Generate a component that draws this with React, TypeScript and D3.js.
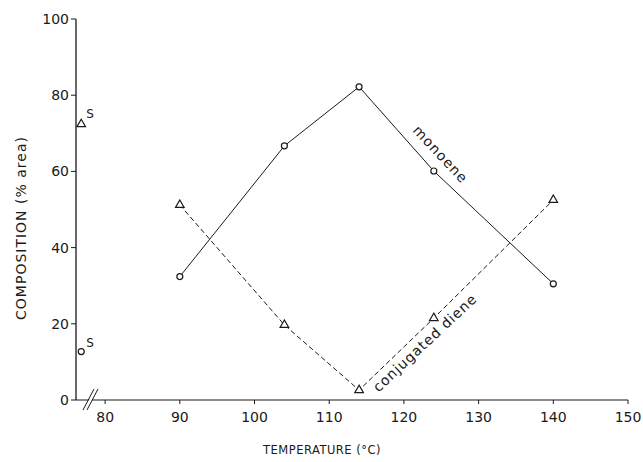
import React from 'react'
import * as d3 from 'd3'

const temps = [90, 104, 114, 124, 140]
const monoene = [32.4, 66.7, 82.2, 60.1, 30.5]
const diene = [51.2, 19.7, 2.6, 21.5, 52.5]
// starting material points, marked "S"
const startTemp = 76.8
const startMonoene = 12.7
const startDiene = 72.4
const xTicks = [80, 90, 100, 110, 120, 130, 140, 150]
const yTicks = [0, 20, 40, 60, 80, 100]

const ink = '#1a1a1a'
const font = 'DejaVu Sans, sans-serif'

const App = () => {
  const w = 643
  const h = 462
  const x = d3.scaleLinear().domain([76.1, 150]).range([76, 628])
  const y = d3.scaleLinear().domain([0, 100]).range([400, 19])

  const line = d3.line<number>()
    .x((d, i) => x(temps[i]))
    .y(d => y(d))

  const tri = d3.symbol().type(d3.symbolTriangle).size(32)()

  const x0 = x.range()[0]
  const y0 = y.range()[0]

  return (
    <svg width={w} height={h} style={{ position: 'absolute', left: 0, top: 0, background: '#fff' }}
      fontFamily={font}>
      {/* axes */}
      <line x1={x0} x2={x0} y1={y(100)} y2={y0} stroke={ink} strokeWidth={1.3} />
      <line x1={x0} x2={x(150)} y1={y0} y2={y0} stroke={ink} strokeWidth={1.2} />
      {yTicks.map(t => (
        <g key={'y' + t} transform={`translate(${x0},${y(t)})`}>
          <line x1={-5} x2={0} stroke={ink} />
          <text x={-7} dy="0.36em" textAnchor="end" fontSize={14} fill={ink}>{t}</text>
        </g>
      ))}
      {xTicks.map(t => (
        <g key={'x' + t} transform={`translate(${x(t)},${y0})`}>
          <line y1={0} y2={4} stroke={ink} />
          <text y={22} textAnchor="middle" fontSize={14} fill={ink}>{t}</text>
        </g>
      ))}
      {/* axis break */}
      <polygon points={`${x0 + 8},${y0 + 10} ${x0 + 19},${y0 - 11} ${x0 + 22},${y0 - 11} ${x0 + 11},${y0 + 10}`} fill="#fff" />
      <line x1={x0 + 7} y1={y0 + 10} x2={x0 + 18} y2={y0 - 11} stroke={ink} />
      <line x1={x0 + 11} y1={y0 + 10} x2={x0 + 22} y2={y0 - 11} stroke={ink} />

      {/* axis titles */}
      <text x={322} y={454} textAnchor="middle" fontSize={11.5} letterSpacing={0.5} fill={ink}>TEMPERATURE (°C)</text>
      <text transform={`translate(26,228) rotate(-90)`} textAnchor="middle" fontSize={14} letterSpacing={1} fill={ink}>COMPOSITION (% area)</text>

      {/* series */}
      <path d={line(monoene) ?? ''} fill="none" stroke={ink} strokeWidth={1} />
      <path d={line(diene) ?? ''} fill="none" stroke={ink} strokeWidth={1} strokeDasharray="5,3" />
      {monoene.map((v, i) => (
        <circle key={'m' + i} cx={x(temps[i])} cy={y(v)} r={3} fill="#fff" stroke={ink} strokeWidth={1.2} />
      ))}
      {diene.map((v, i) => (
        <path key={'d' + i} d={tri ?? ''} transform={`translate(${x(temps[i])},${y(v)})`} fill="#fff" stroke={ink} strokeWidth={1.2} />
      ))}

      {/* starting material */}
      <circle cx={x(startTemp)} cy={y(startMonoene)} r={3} fill="#fff" stroke={ink} strokeWidth={1.2} />
      <path d={tri ?? ''} transform={`translate(${x(startTemp)},${y(startDiene)})`} fill="#fff" stroke={ink} strokeWidth={1.2} />
      <text x={x(startTemp) + 5} y={y(startMonoene) - 5} fontSize={12} fill={ink}>S</text>
      <text x={x(startTemp) + 5} y={y(startDiene) - 6} fontSize={12} fill={ink}>S</text>

      {/* series labels */}
      <text transform={`translate(${x(124.9)},${y(64.5)}) rotate(47)`} textAnchor="middle" dy="0.35em"
        fontSize={14} letterSpacing={1} fill={ink}>monoene</text>
      <text transform={`translate(${x(122.8)},${y(15)}) rotate(-43)`} textAnchor="middle" dy="0.35em"
        fontSize={14} letterSpacing={0.9} fill={ink}>conjugated diene</text>
    </svg>
  )
}

export default App
